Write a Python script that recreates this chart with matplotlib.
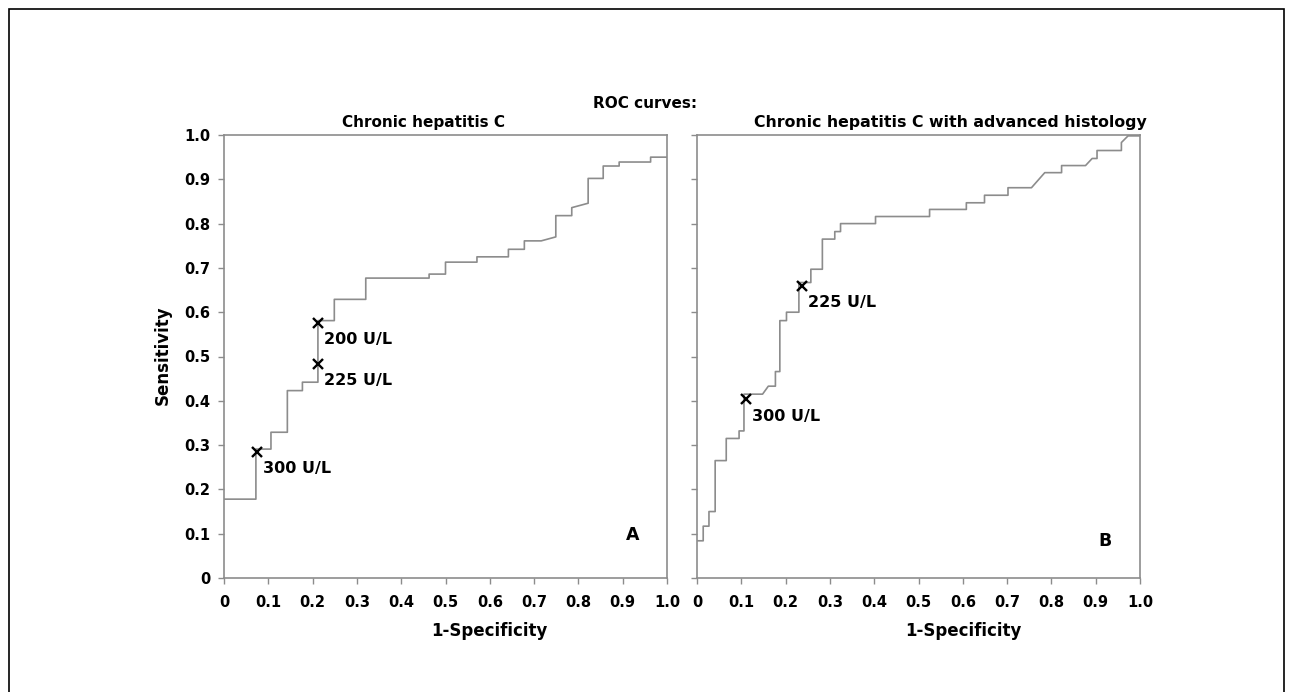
import matplotlib
matplotlib.use("Agg")
import matplotlib.pyplot as plt
from matplotlib.patches import Rectangle

plt.rcParams["font.family"] = ["DejaVu Sans"]
plt.rcParams["font.weight"] = "bold"

# ROC curve A: chronic hepatitis C (vertices of the step curve)
fpr_a = [0, 0.072, 0.072, 0.106, 0.106, 0.143, 0.143, 0.177, 0.177, 0.212,
         0.212, 0.249, 0.249, 0.320, 0.320, 0.463, 0.463, 0.500, 0.500, 0.571,
         0.571, 0.642, 0.642, 0.678, 0.678, 0.716, 0.749, 0.749, 0.785, 0.785,
         0.822, 0.822, 0.856, 0.856, 0.892, 0.892, 0.963, 0.963, 1.0]
tpr_a = [0.178, 0.178, 0.291, 0.291, 0.329, 0.329, 0.423, 0.423, 0.442, 0.442,
         0.581, 0.581, 0.629, 0.629, 0.677, 0.677, 0.686, 0.686, 0.713, 0.713,
         0.725, 0.725, 0.742, 0.742, 0.761, 0.761, 0.770, 0.818, 0.818, 0.836,
         0.846, 0.902, 0.902, 0.930, 0.930, 0.939, 0.939, 0.950, 0.950]

# ROC curve B: chronic hepatitis C with advanced histology
fpr_b = [0, 0.014, 0.014, 0.027, 0.027, 0.041, 0.041, 0.066, 0.066, 0.095,
         0.095, 0.106, 0.106, 0.148, 0.161, 0.177, 0.177, 0.187, 0.187, 0.202,
         0.202, 0.230, 0.230, 0.257, 0.257, 0.283, 0.283, 0.311, 0.311, 0.324,
         0.324, 0.403, 0.403, 0.525, 0.525, 0.608, 0.608, 0.649, 0.649, 0.702,
         0.702, 0.755, 0.785, 0.823, 0.823, 0.877, 0.892, 0.903, 0.903, 0.958,
         0.958, 0.973, 1.0]
tpr_b = [0.084, 0.084, 0.117, 0.117, 0.150, 0.150, 0.265, 0.265, 0.315, 0.315,
         0.332, 0.332, 0.415, 0.415, 0.433, 0.433, 0.466, 0.466, 0.581, 0.581,
         0.600, 0.600, 0.667, 0.667, 0.697, 0.697, 0.765, 0.765, 0.782, 0.782,
         0.800, 0.800, 0.816, 0.816, 0.832, 0.832, 0.847, 0.847, 0.864, 0.864,
         0.881, 0.881, 0.915, 0.915, 0.931, 0.931, 0.947, 0.947, 0.965, 0.965,
         0.983, 0.998, 0.998]

# cut-off points
cut_a_x = [0.075, 0.212, 0.212]
cut_a_y = [0.285, 0.483, 0.575]
cut_a_lab = ["300 U/L", "225 U/L", "200 U/L"]

cut_b_x = [0.110, 0.238]
cut_b_y = [0.403, 0.659]
cut_b_lab = ["300 U/L", "225 U/L"]

ticks = [0, 0.1, 0.2, 0.3, 0.4, 0.5, 0.6, 0.7, 0.8, 0.9, 1.0]
tick_labels = ["0", "0.1", "0.2", "0.3", "0.4", "0.5", "0.6", "0.7", "0.8", "0.9", "1.0"]

W, H = 1293, 692
fig = plt.figure(figsize=(W / 100, H / 100), dpi=100)

# outer frame
fig.patches.append(Rectangle((9 / W, -0.02), (1284 - 9) / W, (H - 9) / H + 0.02,
                             transform=fig.transFigure, fill=False,
                             edgecolor="black", linewidth=1.2))

ax_a = fig.add_axes([224 / W, (H - 578) / H, 443 / W, 443 / H])
ax_b = fig.add_axes([697 / W, (H - 578) / H, 443 / W, 443 / H])

panels = [
    (ax_a, fpr_a, tpr_a, cut_a_x, cut_a_y, cut_a_lab, "A", 0.923, 0.097),
    (ax_b, fpr_b, tpr_b, cut_b_x, cut_b_y, cut_b_lab, "B", 0.921, 0.083),
]

for ax, xs, ys, cx, cy, clab, letter, lx, ly in panels:
    ax.plot(xs, ys, color="#8c8c8c", linewidth=1.2)
    ax.plot(cx, cy, linestyle="none", marker="x", color="black",
            markersize=6.5, markeredgewidth=1.7)
    for x, y, lab in zip(cx, cy, clab):
        ax.annotate(lab, (x, y), xytext=(4.3, -12), textcoords="offset points",
                    ha="left", va="center", fontsize=11.5, fontweight="bold")
    ax.text(lx, ly, letter, transform=ax.transAxes, ha="center", va="center",
            fontsize=12.5, fontweight="bold")
    ax.set_xlim(0, 1)
    ax.set_ylim(0, 1)
    ax.set_xticks(ticks)
    ax.set_xticklabels(tick_labels, fontsize=10.5, fontweight="bold")
    ax.set_yticks(ticks)
    for sp in ax.spines.values():
        sp.set_color("#8c8c8c")
        sp.set_linewidth(1.2)
    ax.tick_params(direction="out", length=4, width=1, color="#8c8c8c")
    ax.tick_params(axis="x", pad=8)
    ax.tick_params(axis="y", pad=6)

ax_a.set_yticklabels(tick_labels, fontsize=10.5, fontweight="bold")
ax_b.set_yticklabels([])

fig.text(645 / W, 1 - 103 / H, "ROC curves:", ha="center", va="center",
         fontsize=11, fontweight="bold")
fig.text(423 / W, 1 - 123 / H, "Chronic hepatitis C", ha="center", va="center",
         fontsize=11, fontweight="bold")
fig.text(950 / W, 1 - 123 / H, "Chronic hepatitis C with advanced histology",
         ha="center", va="center", fontsize=11.3, fontweight="bold")
fig.text(163 / W, 1 - 355 / H, "Sensitivity", ha="center", va="center",
         rotation=90, fontsize=12, fontweight="bold")
fig.text(489 / W, 1 - 631 / H, "1-Specificity", ha="center", va="center",
         fontsize=12, fontweight="bold")
fig.text(963 / W, 1 - 631 / H, "1-Specificity", ha="center", va="center",
         fontsize=12, fontweight="bold")

fig.savefig("out.png", dpi=100)
